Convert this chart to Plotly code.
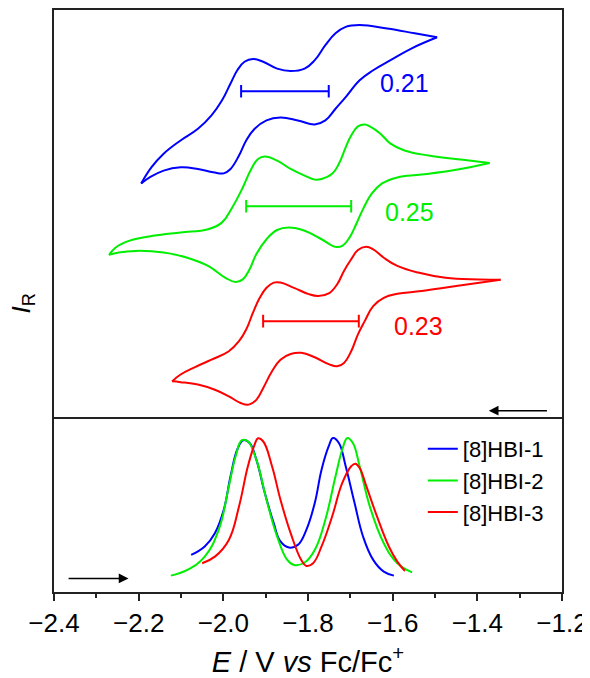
import plotly.graph_objects as go

# ---------------- CV data (top panel), arbitrary current units ----------------
# Each CV loop: upper branch (right tip -> left tip), lower branch (left tip -> right tip)
cv1_up_E = [-1.495, -1.548, -1.613, -1.678, -1.711, -1.735, -1.759, -1.784, -1.808, -1.841,
            -1.873, -1.906, -1.930, -1.950, -1.967, -1.983, -2.003, -2.028, -2.060, -2.101,
            -2.141, -2.170, -2.194]
cv1_up_I = [95.2, 96.2, 97.4, 98.25, 97.8, 96.2, 93.25, 89.5, 87.4, 86.8,
            87.4, 89.1, 89.8, 89.1, 87.0, 83.7, 79.5, 75.75, 72.4, 69.5,
            66.2, 62.8, 58.8]
cv1_lo_E = [-2.194, -2.174, -2.141, -2.101, -2.060, -2.024, -1.999, -1.983, -1.963, -1.946,
            -1.926, -1.898, -1.865, -1.824, -1.784, -1.759, -1.735, -1.711, -1.678, -1.646,
            -1.605, -1.556, -1.495]
cv1_lo_I = [58.8, 60.3, 62.0, 62.8, 62.4, 61.6, 61.3, 62.4, 65.75, 69.5,
            72.4, 74.5, 75.2, 74.5, 73.5, 74.5, 77.4, 80.3, 84.5, 87.0,
            89.5, 92.4, 95.2]

cv2_up_E = [-1.371, -1.434, -1.515, -1.572, -1.605, -1.629, -1.654, -1.666, -1.682, -1.698,
            -1.711, -1.727, -1.743, -1.768, -1.784, -1.808, -1.841, -1.873, -1.902, -1.918,
            -1.934, -1.954, -1.979, -2.003, -2.036, -2.101, -2.166, -2.223, -2.255, -2.270]
cv2_up_I = [63.9, 64.7, 65.75, 67.0, 68.7, 71.2, 73.0, 73.5, 73.0, 70.75,
            67.8, 63.7, 61.2, 59.9, 59.75, 60.75, 62.4, 64.5, 65.5, 64.9,
            62.4, 57.8, 52.8, 49.1, 47.4, 46.6, 45.75, 44.5, 42.8, 41.0]
cv2_lo_E = [-2.270, -2.247, -2.207, -2.141, -2.085, -2.036, -1.995, -1.971, -1.954, -1.938,
            -1.922, -1.898, -1.873, -1.845, -1.808, -1.768, -1.735, -1.719, -1.702, -1.686,
            -1.670, -1.650, -1.625, -1.589, -1.532, -1.450, -1.371]
cv2_lo_I = [41.0, 41.6, 42.0, 41.6, 40.3, 38.25, 35.3, 34.25, 34.9, 37.4,
            41.2, 44.9, 47.2, 47.8, 47.0, 44.9, 43.0, 43.25, 45.3, 48.7,
            52.4, 56.2, 58.8, 60.3, 61.0, 62.2, 63.9]

cv3_up_E = [-1.345, -1.394, -1.475, -1.540, -1.589, -1.621, -1.646, -1.663, -1.682, -1.698,
            -1.715, -1.731, -1.751, -1.776, -1.800, -1.833, -1.865, -1.881, -1.898, -1.914,
            -1.930, -1.946, -1.963, -1.987, -2.028, -2.068, -2.101, -2.121]
cv3_up_I = [34.8, 34.9, 35.3, 36.6, 38.25, 40.3, 42.4, 43.0, 42.2, 39.9,
            37.0, 33.7, 31.4, 30.75, 31.3, 32.8, 34.1, 34.1, 32.8, 30.3,
            26.6, 22.4, 19.5, 17.0, 14.9, 13.0, 11.2, 9.5]
cv3_lo_E = [-2.121, -2.101, -2.060, -2.020, -1.987, -1.959, -1.940, -1.922, -1.906, -1.885,
            -1.865, -1.841, -1.816, -1.784, -1.751, -1.731, -1.715, -1.698, -1.682, -1.666,
            -1.646, -1.621, -1.589, -1.532, -1.450, -1.345]
cv3_lo_I = [9.5, 9.3, 8.7, 7.4, 5.75, 4.1, 3.7, 4.9, 7.8, 12.0,
            14.9, 16.3, 16.6, 15.5, 13.8, 13.25, 14.1, 17.0, 21.2, 24.5,
            28.25, 30.3, 31.3, 32.0, 33.25, 34.8]

# Half-wave potential separation bars (E1/2 values) and labels
bar_E1 = [-1.958, -1.946, -1.906]
bar_E2 = [-1.751, -1.698, -1.680]
bar_I = [81.75, 53.1, 24.5]
dE_labels = ["0.21", "0.25", "0.23"]
label_E = [-1.573, -1.561, -1.539]
label_I = [83.8, 51.75, 23.25]

# ---------------- DPV data (bottom panel), normalized ----------------
dpv1_E = [-2.076, -2.044, -2.020, -1.999, -1.983, -1.967, -1.953, -1.938, -1.922, -1.902,
          -1.881, -1.865, -1.845, -1.824, -1.804, -1.784, -1.768, -1.751, -1.741, -1.727,
          -1.711, -1.690, -1.670, -1.646, -1.621, -1.597]
dpv1_I = [0.215, 0.264, 0.341, 0.477, 0.671, 0.826, 0.880, 0.864, 0.767, 0.574,
          0.399, 0.293, 0.258, 0.273, 0.360, 0.516, 0.709, 0.845, 0.893, 0.864,
          0.729, 0.516, 0.322, 0.186, 0.118, 0.095]
dpv2_E = [-2.124, -2.085, -2.044, -2.011, -1.987, -1.971, -1.956, -1.942, -1.922, -1.898,
          -1.873, -1.849, -1.833, -1.808, -1.784, -1.759, -1.735, -1.719, -1.707, -1.694,
          -1.678, -1.654, -1.621, -1.589, -1.554]
dpv2_I = [0.095, 0.128, 0.205, 0.360, 0.612, 0.787, 0.880, 0.874, 0.767, 0.535,
          0.322, 0.186, 0.157, 0.171, 0.244, 0.419, 0.671, 0.826, 0.893, 0.864,
          0.729, 0.496, 0.283, 0.167, 0.114]
dpv3_E = [-2.050, -2.020, -1.987, -1.963, -1.942, -1.926, -1.918, -1.906, -1.885, -1.865,
          -1.841, -1.816, -1.804, -1.788, -1.768, -1.743, -1.719, -1.698, -1.688, -1.678,
          -1.662, -1.637, -1.609, -1.589, -1.571]
dpv3_I = [0.167, 0.205, 0.302, 0.496, 0.729, 0.855, 0.891, 0.874, 0.729, 0.535,
          0.341, 0.186, 0.151, 0.167, 0.264, 0.438, 0.632, 0.729, 0.744, 0.719,
          0.612, 0.438, 0.264, 0.176, 0.122]

series_names = ["[8]HBI-1", "[8]HBI-2", "[8]HBI-3"]
colors = ["#0000ff", "#00ee00", "#ff0000"]

x_ticks = [-2.4, -2.2, -2.0, -1.8, -1.6, -1.4, -1.2]

# Scan direction arrows
arrow_top_E = [-1.232, -1.373]
arrow_top_I = 2.2
arrow_bot_E = [-2.369, -2.224]
arrow_bot_I = 0.079

FONT = "Liberation Sans, Arial, sans-serif"
SPLIT = 0.2964
SMOOTH = 1.2

fig = go.Figure()

cv_sets = [
    (cv1_up_E, cv1_up_I, cv1_lo_E, cv1_lo_I),
    (cv2_up_E, cv2_up_I, cv2_lo_E, cv2_lo_I),
    (cv3_up_E, cv3_up_I, cv3_lo_E, cv3_lo_I),
]
for k, (ue, ui, le, li) in enumerate(cv_sets):
    for xe, yi in ((ue, ui), (le, li)):
        fig.add_trace(go.Scatter(x=xe, y=yi, mode="lines", xaxis="x", yaxis="y",
                                 line=dict(color=colors[k], width=2, shape="spline",
                                           smoothing=SMOOTH),
                                 showlegend=False, hoverinfo="skip"))
    fig.add_trace(go.Scatter(x=[bar_E1[k], bar_E2[k]], y=[bar_I[k], bar_I[k]],
                             mode="lines+markers", xaxis="x", yaxis="y",
                             line=dict(color=colors[k], width=2),
                             marker=dict(symbol="line-ns-open", size=9,
                                         line=dict(color=colors[k], width=2)),
                             showlegend=False, hoverinfo="skip"))
    fig.add_annotation(x=label_E[k], y=label_I[k], xref="x", yref="y", text=dE_labels[k],
                       showarrow=False, font=dict(family=FONT, size=25, color=colors[k]))

dpv_sets = [(dpv1_E, dpv1_I), (dpv2_E, dpv2_I), (dpv3_E, dpv3_I)]
for k, (xe, yi) in enumerate(dpv_sets):
    fig.add_trace(go.Scatter(x=xe, y=yi, mode="lines", xaxis="x2", yaxis="y2",
                             name=series_names[k],
                             line=dict(color=colors[k], width=2, shape="spline",
                                       smoothing=SMOOTH)))

# arrows
fig.add_annotation(x=arrow_top_E[1], y=arrow_top_I, ax=arrow_top_E[0], ay=arrow_top_I,
                   xref="x", yref="y", axref="x", ayref="y", text="", showarrow=True,
                   arrowhead=2, arrowsize=1.3, arrowwidth=1.5, arrowcolor="black")
fig.add_annotation(x=arrow_bot_E[1], y=arrow_bot_I, ax=arrow_bot_E[0], ay=arrow_bot_I,
                   xref="x2", yref="y2", axref="x2", ayref="y2", text="", showarrow=True,
                   arrowhead=2, arrowsize=1.3, arrowwidth=1.5, arrowcolor="black")

# y-axis title
fig.add_annotation(x=-0.062, y=0.495, xref="paper", yref="paper", xanchor="center",
                   yanchor="middle", text="<i>I</i><sub>R</sub>", textangle=-90,
                   showarrow=False, font=dict(family=FONT, size=26, color="black"))

line_style = dict(showline=True, linecolor="#222222", linewidth=1.5,
                  showgrid=False, zeroline=False)

fig.update_layout(
    width=582, height=670,
    margin=dict(l=46, r=28, t=2, b=86),
    paper_bgcolor="white", plot_bgcolor="white",
    font=dict(family=FONT, color="black"),
    xaxis=dict(domain=[0, 1], anchor="y", side="top", range=[-2.4, -1.2],
               showticklabels=False, ticks="", mirror=False, **line_style),
    yaxis=dict(domain=[SPLIT, 1], anchor="x", range=[0, 102], showticklabels=False,
               ticks="", mirror=True, **line_style),
    xaxis2=dict(domain=[0, 1], anchor="y2", range=[-2.4, -1.2], tickvals=x_ticks,
                tickformat=".1f",
                ticks="outside", ticklen=7, tickwidth=1.5, tickcolor="#222222",
                tickfont=dict(family=FONT, size=26, color="black"),
                minor=dict(dtick=0.1, ticks="outside", ticklen=4, tickwidth=1.5,
                           tickcolor="#222222", tick0=-2.4),
                title=dict(text="<i>E</i> / V <i>vs</i> Fc/Fc<sup>+</sup>",
                           font=dict(family=FONT, size=29, color="black"), standoff=22),
                mirror=True, automargin=False, **line_style),
    yaxis2=dict(domain=[0, SPLIT], anchor="x2", range=[0, 1], showticklabels=False,
                ticks="", mirror=True, **line_style),
    legend=dict(x=0.726, y=0.2818, xanchor="left", yanchor="top",
                font=dict(family=FONT, size=22, color="black"),
                bgcolor="rgba(0,0,0,0)", borderwidth=0, tracegroupgap=0),
)

fig.write_html("out.html")
